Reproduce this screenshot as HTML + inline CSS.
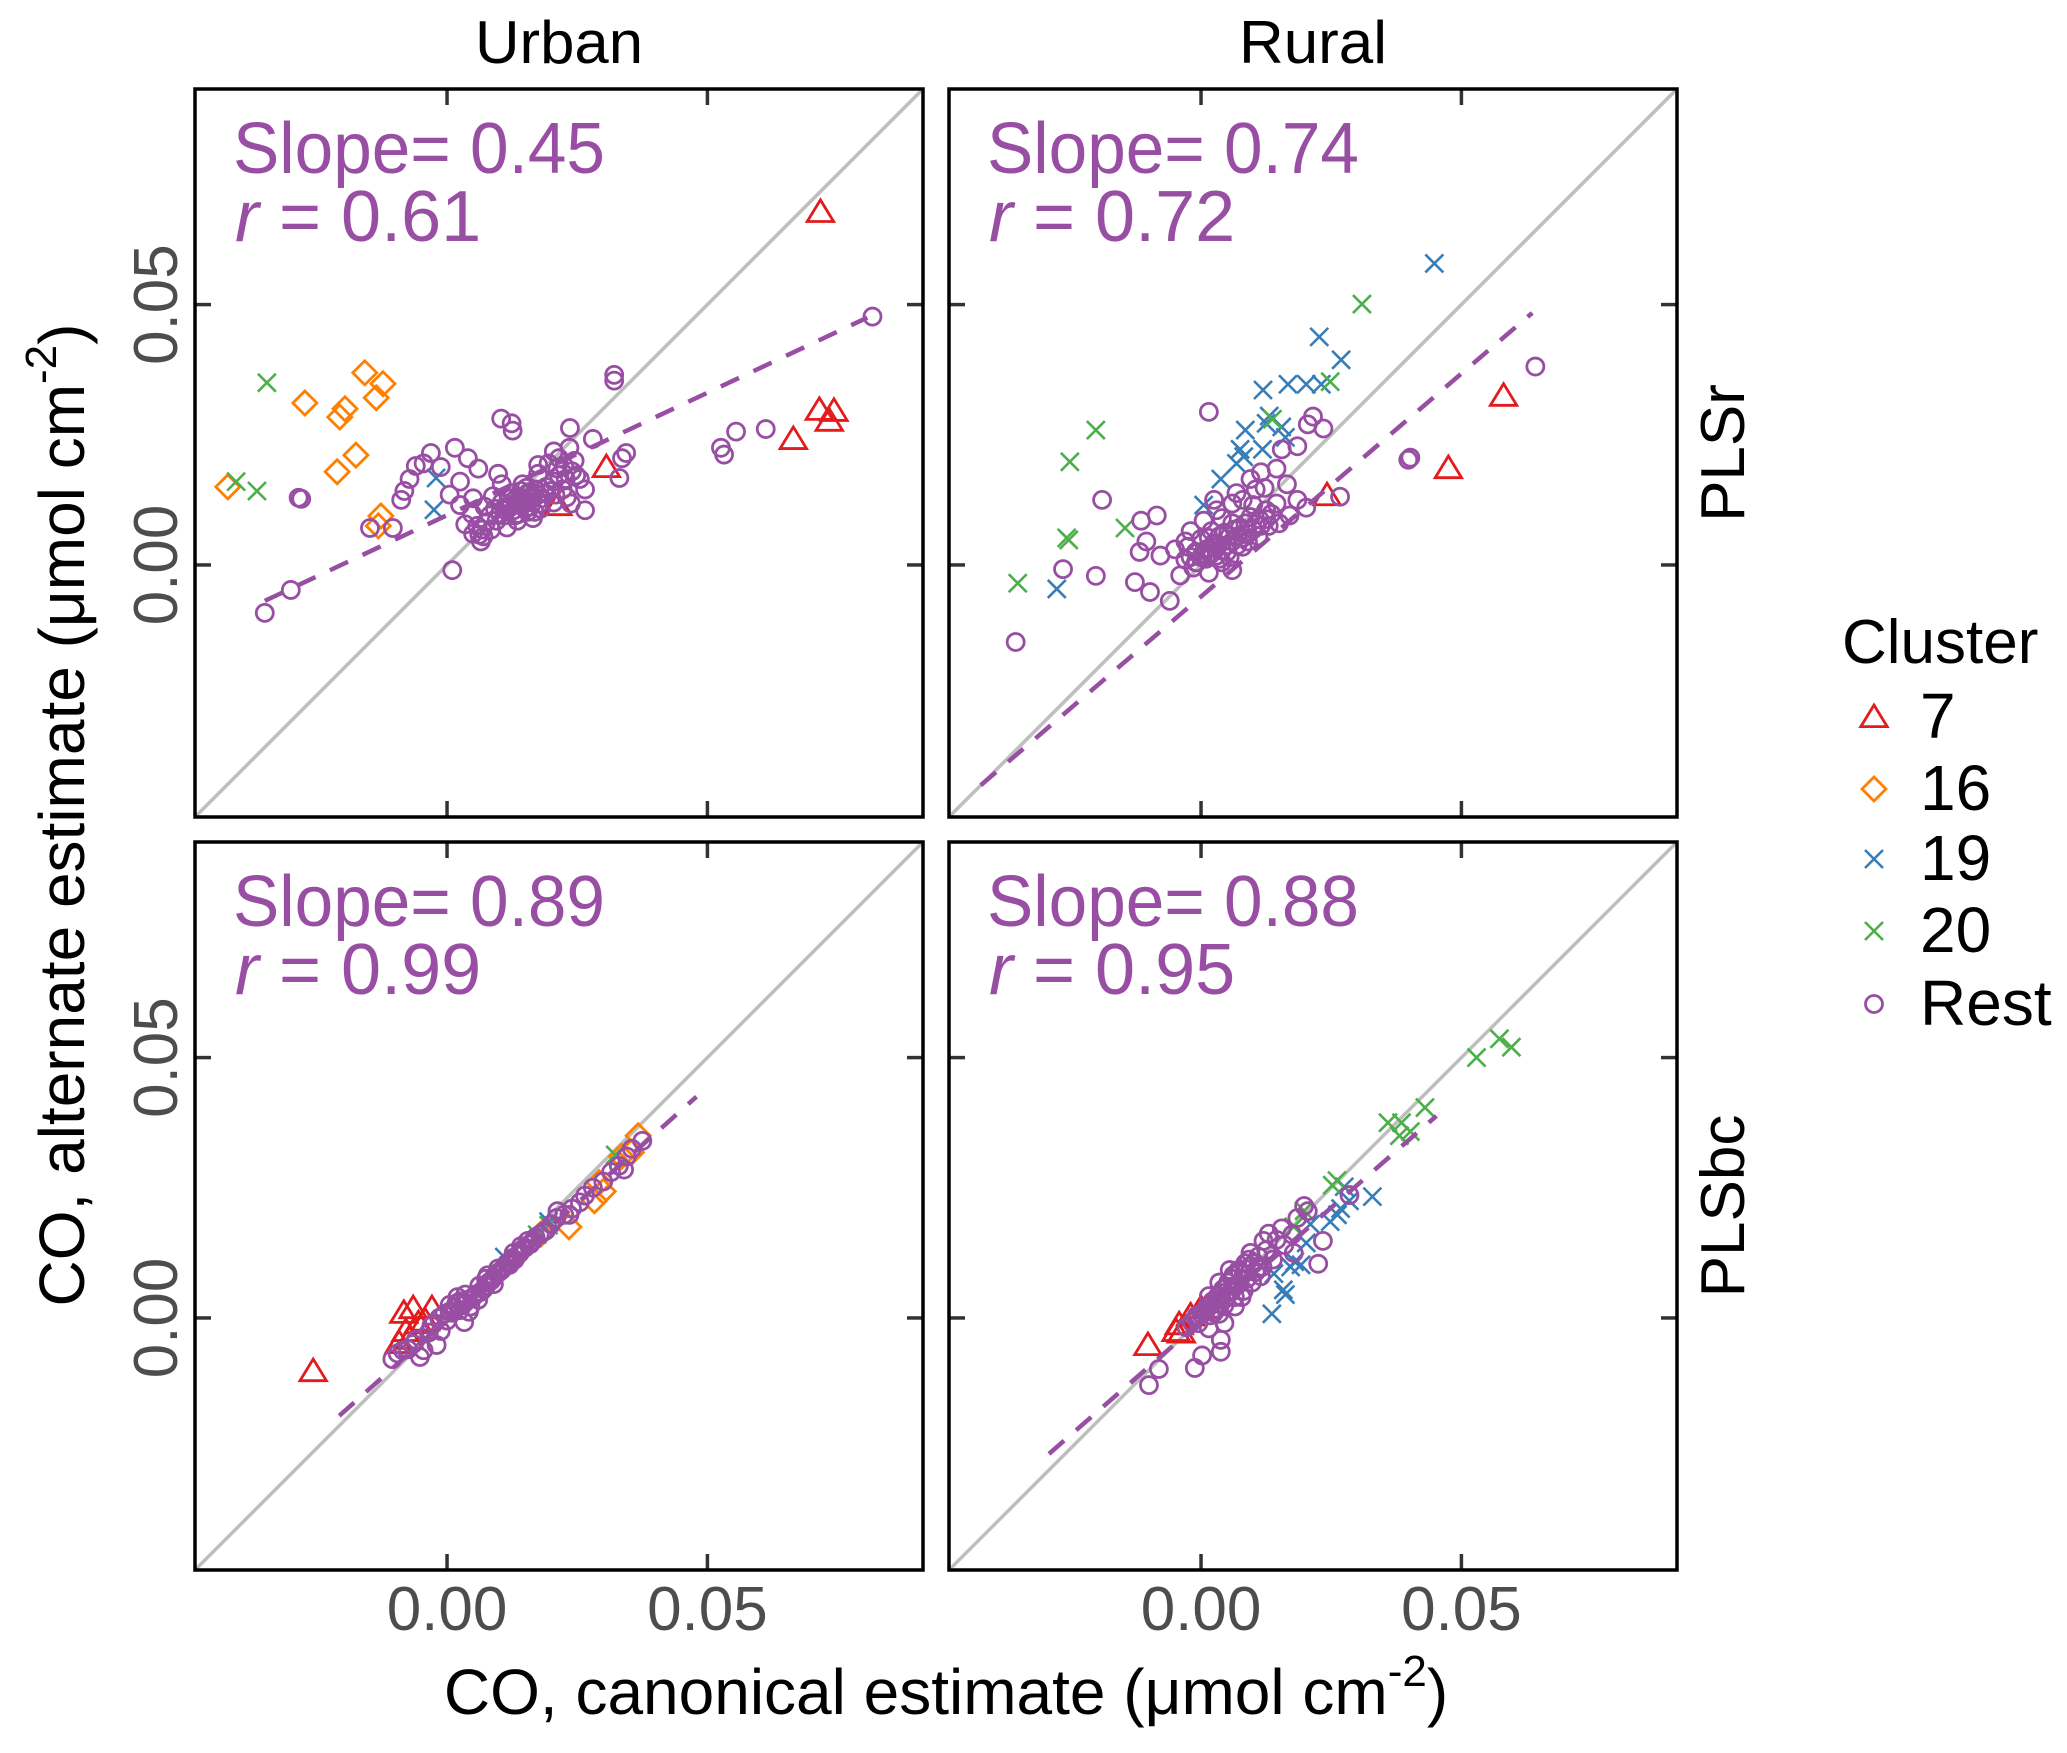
<!DOCTYPE html>
<html><head><meta charset="utf-8"><style>
body{margin:0;background:#fff}
svg{display:block;font-family:"Liberation Sans",Arial,sans-serif}
</style></head><body>
<svg id="chart" width="2067" height="1753" viewBox="0 0 2067 1753" xmlns="http://www.w3.org/2000/svg">
<rect width="2067" height="1753" fill="#fff"/>
<g id="panels"></g>
<text x="559" y="63" font-size="60" text-anchor="middle" fill="#000" textLength="168" lengthAdjust="spacingAndGlyphs">Urban</text>
<text x="1313" y="63" font-size="60" text-anchor="middle" fill="#000" textLength="148" lengthAdjust="spacingAndGlyphs">Rural</text>
<text transform="translate(1744,453) rotate(-90)" font-size="62" text-anchor="middle" fill="#000">PLSr</text>
<text transform="translate(1744,1206) rotate(-90)" font-size="62" text-anchor="middle" fill="#000">PLSbc</text>
<text x="946" y="1714" font-size="64" text-anchor="middle" fill="#000">CO, canonical estimate (μmol  cm<tspan dy="-28" font-size="44">-2</tspan><tspan dy="28">)</tspan></text>
<text transform="translate(84,815) rotate(-90)" font-size="64" text-anchor="middle" fill="#000">CO, alternate estimate (μmol  cm<tspan dy="-28" font-size="44">-2</tspan><tspan dy="28">)</tspan></text>
<g>
<text x="1842" y="663" font-size="62" fill="#000">Cluster</text>
<g id="legend-items"></g>
</g>
</svg>
<script>
const NS="http://www.w3.org/2000/svg";
const clusters=["7","16","19","20","Rest"];
const colors=["#e41a1c","#ff7f00","#377eb8","#4daf4a","#984ea3"];
const shapes=["tri","dia","x","x","circ"];
const xMin=-0.0484, xMax=0.0914;
const xTicks=[0,0.05];
const xTickLabels=["0.00","0.05"];
const panelCols=[195,949], panelRows=[89,842], PW=728;
const slopeLabels=["Slope= 0.45","Slope= 0.74","Slope= 0.89","Slope= 0.88"];
const rLabels=["0.61","0.72","0.99","0.95"];
const fitLines=[[-0.035,-0.0069,0.0807,0.0475],[-0.0423,-0.0423,0.0636,0.0484],[-0.0207,-0.0188,0.0479,0.0425],[-0.0292,-0.0261,0.0452,0.0388]];
// Panel 1: Urban / PLSr
const p1c7=[[0.0717,0.0678],[0.0715,0.0298],[0.0743,0.0296],[0.0734,0.0277],[0.0665,0.0242],[0.0306,0.0188],[0.0213,0.0115]];
const p1c16=[[-0.0158,0.0369],[-0.0123,0.0348],[-0.0136,0.0321],[-0.0273,0.0311],[-0.0196,0.03],[-0.0206,0.0284],[-0.0175,0.0211],[-0.0211,0.0179],[-0.0421,0.015],[-0.0127,0.0094],[-0.0132,0.0075]];
const p1c19=[[-0.0021,0.0167],[-0.0025,0.0106]];
const p1c20=[[-0.0346,0.035],[-0.0405,0.016],[-0.0365,0.0142]];
const p1rest=[[-0.035,-0.0092],[-0.030,-0.0048],[-0.028,0.0127],[-0.0285,0.0129],[-0.0148,0.0071],[-0.0104,0.0071],[0.001,-0.001],[0.0321,0.0365],[0.0321,0.0354],[0.0526,0.0225],[0.0532,0.0212],[0.0555,0.0256],[0.0612,0.0261],[0.0817,0.0477],[0.0104,0.0281],[0.0124,0.0272],[0.0126,0.0258],[0.0236,0.0263],[0.028,0.0242],[0.0344,0.0215],[0.0331,0.0167],[0.0336,0.0205],[0.0015,0.0225],[-0.0031,0.0215],[-0.006,0.019],[-0.0072,0.0165],[-0.0082,0.0142],[-0.0088,0.0125],[-0.0045,0.0195],[-0.0012,0.0188],[0.004,0.0205],[0.006,0.0185],[0.0025,0.016],[0.0005,0.0135],[0.0025,0.0115],[0.005,0.0128],[0.0048,0.0098],[0.0035,0.0078],[0.005,0.006],[0.007,0.0055],[0.0085,0.0068],[0.0065,0.0045],[0.0058,0.0075],[0.0095,0.0085],[0.011,0.0095],[0.012,0.011],[0.0135,0.012],[0.015,0.0125],[0.016,0.014],[0.0175,0.0135],[0.019,0.015],[0.0205,0.016],[0.0215,0.0172],[0.0225,0.019],[0.024,0.018],[0.0255,0.0165],[0.0265,0.0145],[0.023,0.013],[0.0205,0.012],[0.018,0.0108],[0.0155,0.0102],[0.013,0.0095],[0.0115,0.0072],[0.0135,0.0085],[0.0165,0.009],[0.0145,0.0155],[0.0175,0.0175],[0.0195,0.0195],[0.0215,0.0205],[0.0245,0.02],[0.0235,0.0225],[0.0205,0.0218],[0.0175,0.0192],[0.0098,0.0175],[0.0105,0.0155],[0.0088,0.0132],[0.0072,0.0112],[0.0105,0.012],[0.0125,0.0138],[0.0155,0.0138],[0.0265,0.0105],[0.0238,0.0118],[0.0222,0.0145],
[0.012,0.0115],[0.013,0.0125],[0.014,0.013],[0.0145,0.0118],[0.0155,0.012],[0.016,0.0112],[0.0165,0.0128],[0.017,0.0145],[0.0182,0.0128],[0.0188,0.0138],[0.0198,0.0142],[0.0208,0.0135],[0.0112,0.0105],[0.0102,0.0098],[0.0118,0.0128],[0.0128,0.0105],[0.0138,0.0098],[0.015,0.0108],[0.0168,0.0102],[0.0178,0.0118],[0.0092,0.0108],[0.0082,0.0095],[0.0075,0.0082],[0.0068,0.0068],[0.0062,0.0058],[0.0142,0.0142],[0.0152,0.0148],[0.0212,0.0185],[0.0228,0.0165],[0.0248,0.0172]];
// Panel 2: Rural / PLSr
const p2c7=[[0.0581,0.0325],[0.0475,0.0186],[0.0242,0.0134]];
const p2c16=[];
const p2c19=[[0.0448,0.0579],[0.0227,0.0438],[0.0269,0.0394],[0.0119,0.0336],[0.0167,0.0347],[0.0202,0.0347],[0.0231,0.0347],[0.0131,0.0286],[0.0125,0.0272],[0.0085,0.0259],[0.0075,0.0222],[0.0068,0.0195],[0.0082,0.0208],[0.0118,0.0222],[0.0155,0.0265],[0.0162,0.0245],[0.0038,0.0165],[-0.0277,-0.0046],[0.0005,0.0115]];
const p2c20=[[0.0309,0.0501],[0.0248,0.0352],[-0.0202,0.0259],[-0.0252,0.0198],[-0.0258,0.0052],[-0.0254,0.0048],[-0.0146,0.0071],[-0.0352,-0.0035],[0.0137,0.028]];
const p2rest=[[-0.0356,-0.0148],[-0.0265,-0.0008],[-0.0202,-0.0021],[-0.019,0.0125],[0.0015,0.0294],[0.0398,0.0202],[0.0402,0.0206],[0.0642,0.0381],[0.0267,0.0131],[0.0202,0.011],[0.0215,0.0285],[0.0235,0.0262],[0.0205,0.027],[0.0185,0.0228],[0.0155,0.0222],[0.0115,0.0178],[0.0122,0.0148],[-0.0127,-0.0033],[-0.0098,-0.0052],[-0.006,-0.0069],[-0.0115,0.0085],[-0.0085,0.0095],[-0.0105,0.0045],[-0.0118,0.0025],[-0.0078,0.0018],[-0.005,0.003],[-0.003,0.001],[-0.004,-0.002],[-0.001,0.0005],[0.001,0.003],[0.003,0.004],[0.002,0.0065],[0.004,0.009],[0.006,0.008],[0.007,0.0055],[0.009,0.006],[0.005,0.0025],[0.008,0.0035],[0.011,0.0055],[0.013,0.0075],[0.015,0.008],[0.017,0.0095],[0.0125,0.0105],[0.01,0.0115],[0.008,0.0125],[0.006,0.0118],[0.003,0.0105],[0.0005,0.0085],[-0.002,0.0065],[0.0015,-0.0015],[0.004,0.0005],[0.006,-0.001],[0.0185,0.0125],[0.0105,0.0145],[0.0095,0.0165],[0.0145,0.0185],[0.0068,0.0138],[0.0025,0.0125],[0.0165,0.0155],[0.0,0.005],[-0.003,0.0045],[0.0112,0.0088],
[-0.002,0.0015],[-0.001,0.0025],[0.0,0.0015],[0.001,0.0012],[0.002,0.0022],[0.003,0.0018],[0.004,0.0028],[0.005,0.0038],[0.006,0.0045],[0.007,0.0038],[0.008,0.0052],[0.009,0.0045],[0.01,0.0068],[0.0115,0.0075],[0.0125,0.0088],[0.0035,0.0055],[0.0025,0.0042],[0.0015,0.0032],[0.0005,0.0022],[-0.0008,0.0005],[-0.0015,-0.0005],[0.0045,0.0062],[0.0055,0.0055],[0.0065,0.0068],[0.0075,0.0072],[0.0085,0.008],[0.0095,0.0092],[0.0105,0.0078],[0.0135,0.0098],[0.0145,0.0118],[0.0035,0.0012],[0.0055,0.0015],[0.0015,0.0052],[-0.0025,0.0035]];
// Panel 3: Urban / PLSbc
const p3c7=[[-0.0257,-0.0102],[-0.0083,0.001],[-0.0065,0.0019],[-0.0029,0.0019],[-0.0042,-0.0005],[-0.0079,-0.0025],[-0.0092,-0.0048],[-0.0072,-0.004],[-0.0055,-0.001]];
const p3c16=[[0.0367,0.035],[0.0354,0.0318],[0.0335,0.031],[0.0292,0.026],[0.0283,0.0225],[0.0234,0.0175],[0.018,0.0161],[0.03,0.0243]];
const p3c19=[[0.0195,0.0185],[0.011,0.0117]];
const p3c20=[[0.0323,0.0313],[0.0173,0.016],[0.0195,0.0178]];
const p3rest=[[-0.0105,-0.0079],[-0.0095,-0.0068],[-0.0052,-0.0075],[-0.0045,-0.0062],[-0.002,-0.0052],[0.0033,-0.0008],[0.0005,0.0025],[-0.0012,-0.0025],[0.0,-0.0005],[0.001,0.001],[0.0025,0.0015],[0.0035,0.003],[0.005,0.004],[0.0045,0.0022],[0.0065,0.005],[0.0075,0.0062],[0.0085,0.0072],[0.0095,0.0085],[0.0105,0.0092],[0.0115,0.0105],[0.0125,0.0115],[0.0135,0.012],[0.0145,0.0132],[0.016,0.0142],[0.017,0.0155],[0.0185,0.0165],[0.02,0.018],[0.021,0.0192],[0.0225,0.0198],[0.024,0.021],[0.0255,0.0222],[0.0265,0.0235],[0.028,0.025],[0.03,0.0262],[0.0315,0.028],[0.033,0.0292],[0.0345,0.031],[0.0355,0.0325],[0.0375,0.034],[0.034,0.0285],[0.0035,0.0045],[0.006,0.0035],[0.002,0.004],[0.0075,0.0075],[0.009,0.0065],[0.012,0.0108],[0.0155,0.0148],[0.019,0.0168],[0.0212,0.0205],[0.0235,0.0198],[-0.003,-0.0015],[-0.006,-0.0042],[0.0042,0.0012],[0.0018,0.0028],
[-0.0035,-0.0028],[-0.0025,-0.001],[-0.0015,0.0],[-0.0005,0.0008],[0.0005,0.0012],[0.0015,0.002],[0.003,0.0025],[0.004,0.0035],[0.0055,0.0045],[0.007,0.0055],[0.008,0.0068],[0.009,0.0078],[0.01,0.0088],[0.011,0.0098],[0.012,0.0102],[0.013,0.0112],[0.014,0.0125],[0.015,0.0135],[0.0165,0.0148],[0.0178,0.016],[-0.0075,-0.006],[-0.0065,-0.005],[-0.0085,-0.0062],[0.0025,0.0032],[0.0062,0.0062],[0.0078,0.0082],[0.0098,0.0095],[0.0128,0.0125],[0.0142,0.0138]];
// Panel 4: Rural / PLSbc
const p4c7=[[-0.0102,-0.0052],[-0.0042,-0.0012],[-0.0038,-0.0028],[0.0,0.0019],[-0.0048,-0.0025],[-0.002,0.0005]];
const p4c16=[];
const p4c19=[[0.0329,0.0233],[0.0285,0.0225],[0.0262,0.0198],[0.0248,0.0185],[0.0268,0.021],[0.021,0.018],[0.0202,0.0144],[0.018,0.0108],[0.0172,0.0098],[0.0192,0.0102],[0.0158,0.0054],[0.0162,0.0045],[0.0136,0.0008],[0.0275,0.0252],[0.014,0.0085]];
const p4c20=[[0.0573,0.0536],[0.0596,0.052],[0.0529,0.05],[0.043,0.0404],[0.0359,0.0375],[0.0385,0.0375],[0.0381,0.035],[0.0402,0.0358],[0.0261,0.0264],[0.0252,0.0255],[0.0198,0.0206],[0.0178,0.0175]];
const p4rest=[[-0.01,-0.0129],[-0.0081,-0.0098],[-0.0012,-0.0096],[0.0002,-0.0072],[0.0038,-0.0065],[0.0038,-0.0042],[0.0225,0.0104],[0.0234,0.0148],[0.0285,0.0236],[0.0205,0.0205],[0.0175,0.016],[0.016,0.014],[0.011,0.0118],[0.0095,0.01],[0.0125,0.013],[0.0145,0.015],[0.0155,0.0172],[0.0185,0.0192],[0.0198,0.0215],[0.013,0.0162],[0.012,0.0148],[0.0095,0.0125],[0.0085,0.0105],[0.0075,0.0088],[0.006,0.0075],[0.005,0.006],[0.004,0.0048],[0.003,0.0035],[0.002,0.0025],[0.001,0.0015],[0.0,0.0008],[-0.001,0.0],[0.0025,0.001],[0.0045,0.0025],[0.0065,0.004],[0.0082,0.0052],[0.0098,0.0068],[0.0115,0.008],[0.0068,0.0062],[0.0055,0.0092],[0.0035,0.0068],[0.0015,0.0042],[0.0045,-0.001],[0.0015,-0.002],[-0.0028,-0.0018],[0.0108,0.0095],[0.0138,0.0112],[0.0178,0.0125],
[-0.0018,-0.0008],[-0.0008,0.0005],[0.0005,0.0012],[0.0012,0.0022],[0.0022,0.0032],[0.0032,0.0042],[0.0042,0.0055],[0.0052,0.0068],[0.0062,0.0082],[0.0072,0.0092],[0.0082,0.0085],[0.0092,0.0112],[0.0102,0.0105],[0.0028,0.0018],[0.0038,0.0028],[0.0048,0.0038],[0.0058,0.005],[0.0072,0.0065],[0.0088,0.0075],[0.0105,0.0088],[0.0118,0.0098],[0.0035,0.0008],[0.0018,0.0005],[-0.0005,-0.001],[0.0065,0.0022],[0.0078,0.004]];
const panelData=[[p1c7,p1c16,p1c19,p1c20,p1rest],[p2c7,p2c16,p2c19,p2c20,p2rest],[p3c7,p3c16,p3c19,p3c20,p3rest],[p4c7,p4c16,p4c19,p4c20,p4rest]];
const panelNames=["urban-plsr","rural-plsr","urban-plsbc","rural-plsbc"];

function sx(v,x0){return x0+(v-xMin)/(xMax-xMin)*PW;}
function sy(v,y0){return y0+PW-(v-xMin)/(xMax-xMin)*PW;}
function mk(tag,attrs,parent){const e=document.createElementNS(NS,tag);for(const k in attrs)e.setAttribute(k,attrs[k]);parent.appendChild(e);return e;}
function marker(shape,cx,cy,col,parent,scale){
  const s=scale||1;let e;
  if(shape==="circ"){e=mk("circle",{cx:cx,cy:cy,r:8.5*s,fill:"none",stroke:col,"stroke-width":2.8},parent);}
  else if(shape==="tri"){const h=12*s;e=mk("polygon",{points:`${cx},${cy-h} ${cx+h*1.1},${cy+h*0.8} ${cx-h*1.1},${cy+h*0.8}`,fill:"none",stroke:col,"stroke-width":2.8},parent);}
  else if(shape==="dia"){const h=12*s;e=mk("polygon",{points:`${cx},${cy-h} ${cx+h},${cy} ${cx},${cy+h} ${cx-h},${cy}`,fill:"none",stroke:col,"stroke-width":2.8},parent);}
  else {const h=9*s;e=mk("path",{d:`M${cx-h},${cy-h}L${cx+h},${cy+h}M${cx-h},${cy+h}L${cx+h},${cy-h}`,fill:"none",stroke:col,"stroke-width":2.6},parent);}
  return e;
}
const root=document.getElementById("panels");
for(let p=0;p<4;p++){
  const x0=panelCols[p%2], y0=panelRows[Math.floor(p/2)];
  const g=mk("g",{},root);
  
  
  mk("rect",{x:x0,y:y0,width:PW,height:PW,fill:"#fff"},g);
  const diag=mk("line",{x1:sx(xMin,x0),y1:sy(xMin,y0),x2:sx(xMax,x0),y2:sy(xMax,y0),stroke:"#bebebe","stroke-width":3.5},g);
  
  
  const cp=mk("clipPath",{id:"clip"+p},g);mk("rect",{x:x0,y:y0,width:PW,height:PW},cp);
  const pts=mk("g",{"clip-path":`url(#clip${p})`},g);
  for(let c=0;c<5;c++){
    panelData[p][c].forEach(d=>{
      const m=marker(shapes[c],sx(d[0],x0),sy(d[1],y0),colors[c],pts);
      
      
    });
  }
  const f=fitLines[p];
  const fl=mk("line",{x1:sx(f[0],x0),y1:sy(f[1],y0),x2:sx(f[2],x0),y2:sy(f[3],y0),stroke:"#984ea3","stroke-width":4.5,"stroke-dasharray":"20 16"},g);
  
  
  xTicks.forEach((t,i)=>{
    const tx=sx(t,x0), ty=sy(t,y0);
    mk("line",{x1:tx,y1:y0,x2:tx,y2:y0+16,stroke:"#333","stroke-width":3.5},g);
    mk("line",{x1:tx,y1:y0+PW,x2:tx,y2:y0+PW-16,stroke:"#333","stroke-width":3.5},g);
    mk("line",{x1:x0,y1:ty,x2:x0+16,y2:ty,stroke:"#333","stroke-width":3.5},g);
    mk("line",{x1:x0+PW,y1:ty,x2:x0+PW-16,y2:ty,stroke:"#333","stroke-width":3.5},g);
    if(p>=2){const tl=mk("text",{x:tx,y:1630,"font-size":62,"text-anchor":"middle",fill:"#4d4d4d"},g);tl.textContent=xTickLabels[i];
      
      }
    if(p%2===0){const tl=mk("text",{transform:`translate(177,${ty}) rotate(-90)`,"font-size":62,"text-anchor":"middle",fill:"#4d4d4d"},g);tl.textContent=xTickLabels[i];
      
      }
  });
  mk("rect",{x:x0,y:y0,width:PW,height:PW,fill:"none",stroke:"#000","stroke-width":3.5},g);
  const t1=mk("text",{x:x0+38,y:y0+84,"font-size":72,fill:"#984ea3",textLength:372,lengthAdjust:"spacingAndGlyphs"},g);t1.textContent=slopeLabels[p];
  
  
  const t2=mk("text",{x:x0+40,y:y0+152,"font-size":72,fill:"#984ea3"},g);
  
  
  const ti=mk("tspan",{"font-style":"italic"},t2);ti.textContent="r";
  const tv=mk("tspan",{},t2);tv.textContent=" = "+rLabels[p];
}
const lg=document.getElementById("legend-items");
const legendY=[738,810,880,952,1025];
clusters.forEach((c,i)=>{
  const g=mk("g",{},lg);
  
  
  marker(shapes[i],1874,legendY[i]-21,colors[i],g,1);
  const t=mk("text",{x:1920,y:legendY[i],"font-size":64,fill:"#000"},g);t.textContent=c;
});
</script>
</body></html>
